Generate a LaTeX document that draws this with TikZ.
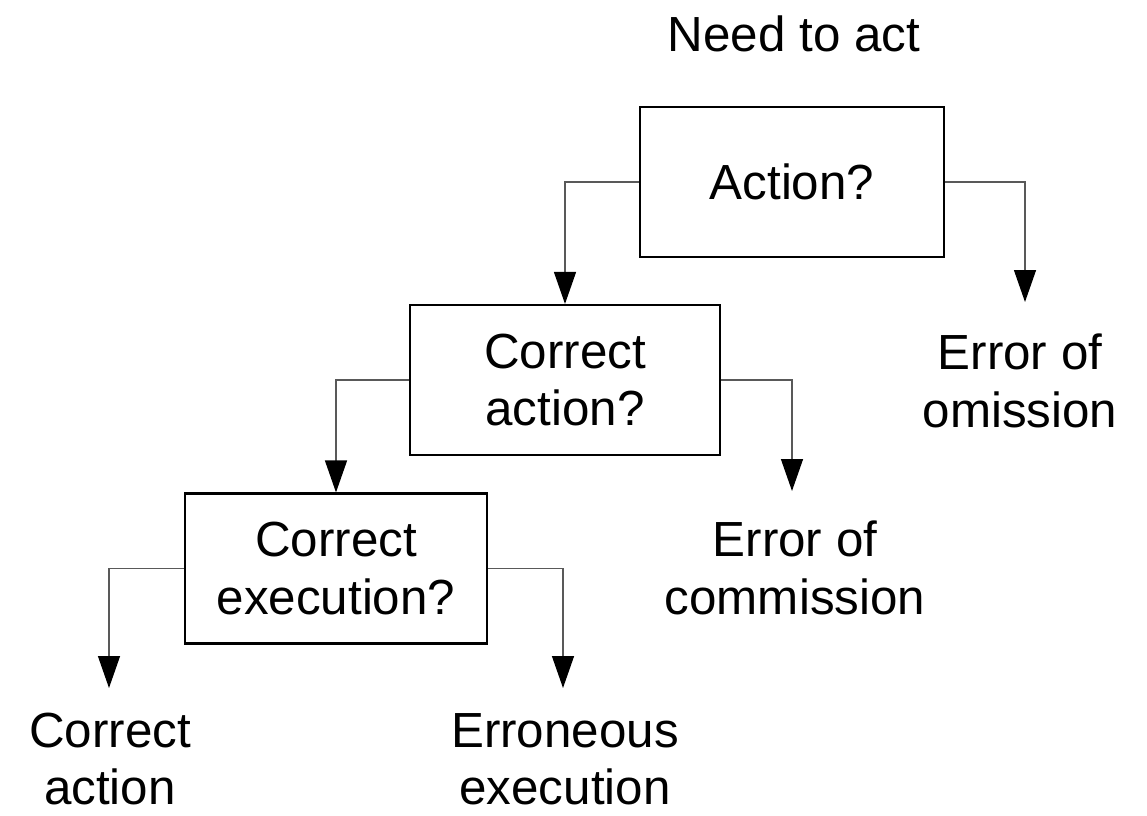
\documentclass[tikz,border=0pt]{standalone}
\usepackage{fontspec}
\setmainfont{Liberation Sans}
\usetikzlibrary{arrows.meta}
\tikzset{
  box/.style={draw=black, line width=1.6pt, minimum width=#1, minimum height=112.5pt, inner sep=0pt, align=center, font=\fontsize{37}{43}\selectfont},
  lbl/.style={align=center, inner sep=0pt, font=\fontsize{37}{43}\selectfont},
  conn/.style={draw=black!65, line width=1pt, -{Triangle[width=16.5pt,length=24pt,color=black]}}
}
\begin{document}
\begin{tikzpicture}[x=0.75pt,y=-0.75pt]
\useasboundingbox (0,0) rectangle (1147,815);
\node[box=228pt] (b1) at (792,182) {Action?};
\node[box=232pt] (b2) at (565,380) {Correct\\action?};
\node[box=227pt] (b3) at (336,568.5) {Correct\\execution?};
\node[lbl] (need) at (794,34) {Need to act};
\node[lbl] (omis) at (1020,381) {Error of\\omission};
\node[lbl] (comm) at (795,568) {Error of\\commission};
\node[lbl] (cact) at (110,759) {Correct\\action};
\node[lbl] (erro) at (565,759) {Erroneous\\execution};
\coordinate (t1) at (1025,302);
\coordinate (t2) at (792,491);
\coordinate (t3) at (109,688);
\coordinate (t4) at (563,688);
\draw[conn] (b1.west) -| (b2.north);
\draw[conn] (b1.east) -| (t1);
\draw[conn] (b2.west) -| (b3.north);
\draw[conn] (b2.east) -| (t2);
\draw[conn] (b3.west) -| (t3);
\draw[conn] (b3.east) -| (t4);
\end{tikzpicture}
\end{document}
